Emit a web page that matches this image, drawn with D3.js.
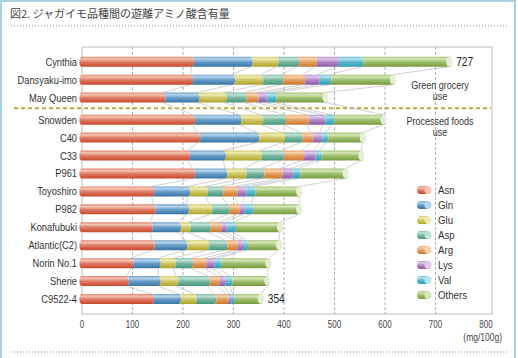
<!DOCTYPE html>
<html><head><meta charset="utf-8">
<script src="https://cdn.jsdelivr.net/npm/d3@7"></script>
<style>
body{margin:0;background:#fff;}
svg text{font-family:"Liberation Sans","Arial",sans-serif;}
</style></head>
<body><svg id="c" width="518" height="358"></svg>
<script>
const categories = ["Cynthia","Dansyaku-imo","May Queen","Snowden","C40","C33","P961","Toyoshiro","P982","Konafubuki","Atlantic(C2)","Norin No.1","Sherie","C9522-4"];
const groupStartProcessed = 3;
const seriesNames = ["Asn","Gln","Glu","Asp","Arg","Lys","Val","Others"];
const asn    = [217,215,160,219,229,209,219,138,141,135,139, 97, 88,138];
const gln    = [116, 83, 68, 92,117, 71, 64, 71, 66, 56, 65, 54, 63, 53];
const glu    = [ 51, 56, 53, 43, 51, 71, 38, 35, 46, 19, 43, 30, 35, 31];
const asp    = [ 41, 40, 40, 45, 35, 44, 35, 31, 35, 40, 36, 34, 63, 39];
const arg    = [ 35, 43, 24, 46, 21, 40, 36, 28, 20, 21, 21, 27, 19, 24];
const lys    = [ 44, 29, 17, 32, 18, 23, 21, 18, 10, 12, 12, 16, 12,  7];
const val    = [ 48, 23, 18, 18, 12, 12, 15, 18, 17, 17,  8, 13, 13,  6];
const others = [175,127,102,102, 73, 83, 94, 91, 95, 92, 66, 98, 74, 56];
const xTicks = [0,100,200,300,400,500,600,700,800];
const totalLabelRows = ["Cynthia","C9522-4"];
const groupLabels = [["Green grocery","use"],["Processed foods","use"]];

const colors = {
  Asn:["#f4c6b6","#e0806a","#c9472a"],
  Gln:["#b8d6ec","#6ca0ca","#3874a6"],
  Glu:["#eeecb4","#d2c96c","#ada42c"],
  Asp:["#c2e4d6","#7cbaa2","#46967a"],
  Arg:["#f7d4b2","#e7a266","#cc782c"],
  Lys:["#e0cce8","#b690ca","#8a58a6"],
  Val:["#b8e4ee","#60bed2","#2a9ab2"],
  Others:["#d6e6ba","#a2c272","#789a3e"]
};

(function(){
const seriesData = [asn,gln,glu,asp,arg,lys,val,others];
const table = categories.map((c,i)=>{const o={cat:c};seriesNames.forEach((s,k)=>o[s]=seriesData[k][i]);return o;});
const stack = d3.stack().keys(seriesNames)(table);

const svg = d3.select("#c");
const defs = svg.append("defs");
seriesNames.forEach(s=>{
  const [l,m,d]=colors[s];
  const g=defs.append("linearGradient").attr("id","g_"+s).attr("x1",0).attr("y1",0).attr("x2",0).attr("y2",1);
  [[0,m],[0.22,l],[0.5,m],[1,d]].forEach(([o,c])=>g.append("stop").attr("offset",o).attr("stop-color",c));
});

// condensed text helper
const label=(parent,tx,ty,txt,size,anchor,sx,fill)=>{
  parent.append("g").attr("transform",`translate(${tx},${ty}) scale(${sx},1)`)
    .append("text").attr("text-anchor",anchor).attr("fill",fill).style("font-size",size+"px").text(txt);
};

// frame
svg.append("path").attr("d","M1,360 L1,1 L515,1 L515,360").attr("fill","none").attr("stroke","#a9d2de").attr("stroke-width",2);
svg.append("text").attr("x",10).attr("y",18).text("図2. ジャガイモ品種間の遊離アミノ酸含有量")
  .style("font-family","'Noto Sans CJK JP',sans-serif").style("font-size","11px").attr("fill","#444");
[26,352].forEach(yy=>svg.append("line").attr("x1",11).attr("x2",507).attr("y1",yy).attr("y2",yy)
  .attr("stroke","#888").attr("stroke-width",1).attr("stroke-dasharray","1,2"));

const x = d3.scaleLinear().domain([0,800]).range([82,486]);
const yIdx = d3.scaleLinear().domain([0,categories.length-1]).range([61.7,61.7+13*17.93]);
const gap = 4.2;
const y = c=>{const i=categories.indexOf(c);return yIdx(i)+(i>=groupStartProcessed?gap:0);};
const h = 10, rx = 2.6, ry = h/2;
const plotTop = 47, plotBottom = 314, plotRight = 492;

const plot = svg.append("g");
plot.selectAll("line.grid").data(xTicks.filter(t=>t>0&&t<800)).join("line")
  .attr("x1",d=>x(d)).attr("x2",d=>x(d)).attr("y1",plotTop).attr("y2",plotBottom)
  .attr("stroke","#9a9a9a").attr("stroke-width",0.8).attr("stroke-dasharray","3,2");
plot.append("rect").attr("x",x(0)).attr("y",plotTop).attr("width",plotRight-x(0)).attr("height",plotBottom-plotTop)
  .attr("fill","none").attr("stroke","#bdbdbd").attr("stroke-width",1);

// x axis (ticks via scale), labels condensed
const ax = svg.append("g").attr("transform",`translate(0,${plotBottom})`).call(d3.axisBottom(x).tickValues(xTicks).tickSize(0).tickFormat(""));
ax.select(".domain").remove();
x.ticks && xTicks.forEach(t=>label(svg,x(t),plotBottom+14,d3.format("d")(t),10,"middle",0.8,"#444"));
label(svg,502,341,"(mg/100g)",10,"end",0.85,"#444");

svg.append("line").attr("x1",14).attr("x2",491).attr("y1",108.3).attr("y2",108.3)
  .attr("stroke","#bfa838").attr("stroke-width",2).attr("stroke-dasharray","4,3");

const conn = svg.append("g");
for(let i=0;i<categories.length-1;i++){
  stack.forEach(layer=>{
    conn.append("line").attr("x1",x(layer[i][1])).attr("y1",y(categories[i])+h/2)
      .attr("x2",x(layer[i+1][1])).attr("y2",y(categories[i+1])-h/2)
      .attr("stroke","#bdbdbd").attr("stroke-width",0.7);
  });
}

const segPath=(x0,x1,yc,first)=>{
  const t=yc-h/2,b=yc+h/2;
  return `M${x0},${t} L${x1},${t} A${rx},${ry} 0 0 1 ${x1},${b} L${x0},${b} A${rx},${ry} 0 0 ${first?1:0} ${x0},${t} Z`;
};
const bars = svg.append("g");
stack.forEach((layer,k)=>{
  bars.selectAll(null).data(layer).join("path")
    .attr("d",d=>segPath(x(d[0]),x(d[1]),y(d.data.cat),k===0))
    .attr("fill",`url(#g_${layer.key})`);
});
const last = stack[stack.length-1];
bars.selectAll(null).data(last).join("ellipse")
  .attr("cx",d=>x(d[1])).attr("cy",d=>y(d.data.cat)).attr("rx",rx+0.4).attr("ry",ry)
  .attr("fill","#e6efd6");

categories.forEach(c=>label(svg,77,y(c)+4,c,11.5,"end",0.81,"#333"));

last.filter(d=>totalLabelRows.includes(d.data.cat)).forEach(d=>{
  label(svg,x(d[1])+7,y(d.data.cat)+4.5,String(d[1]),12,"start",0.85,"#222");
});

const gy = [[88.5,99.5],[125,136]];
groupLabels.forEach((lines,gi)=>lines.forEach((t,li)=>{
  label(svg,440,gy[gi][li],t,11,"middle",0.82,"#333");
}));

const lg = svg.append("g");
seriesNames.forEach((s,k)=>{
  const yc = 190 + k*15;
  lg.append("path").attr("d",`M420,${yc-4} L428,${yc-4} L428,${yc+4} L420,${yc+4} A3,4 0 0 1 420,${yc-4} Z`).attr("fill",`url(#g_${s})`);
  lg.append("ellipse").attr("cx",428).attr("cy",yc).attr("rx",3.5).attr("ry",4).attr("fill",colors[s][0]);
  label(lg,438,yc+4,s,11,"start",0.88,"#333");
});
})();
</script></body></html>
